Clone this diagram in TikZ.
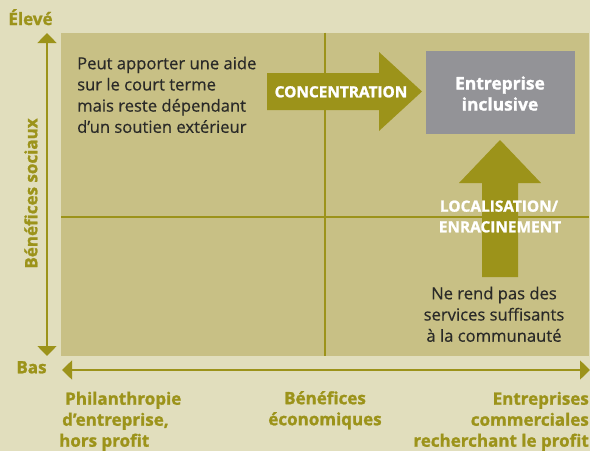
\documentclass[tikz,border=0pt]{standalone}
\usepackage{fontspec}
\setmainfont{Open Sans}[BoldFeatures={FakeBold=1.3}]
\newfontfamily\bodyfont{Open Sans}[FakeBold=0.5]
\usetikzlibrary{arrows.meta}
\definecolor{bg}{HTML}{E1DEBD}
\definecolor{panel}{HTML}{C8C085}
\definecolor{olive}{HTML}{9C931A}
\definecolor{greybox}{HTML}{939397}
\definecolor{darktext}{HTML}{2A2A28}
\tikzset{
  gridline/.style={olive, line width=1.6pt},
  axis/.style={olive, line width=1.6pt, {Triangle[width=19pt,length=10pt]}-{Triangle[width=19pt,length=10pt]}},
  blockarrow/.style={fill=olive},
  axlabel/.style={text=olive, font=\fontsize{17}{21}\selectfont\bfseries, inner sep=0pt},
  bodytext/.style={text=darktext, font=\bodyfont\fontsize{16.6}{21.2}\selectfont, inner sep=0pt},
  whitelabel/.style={text=white, font=\fontsize{15.4}{21}\selectfont\bfseries, inner sep=0pt},
}
\begin{document}
\begin{tikzpicture}[x=1pt,y=-1pt]
\fill[bg] (0,0) rectangle (590,451);
\useasboundingbox (0,0) rectangle (590,451);
\fill[panel] (61,32.5) rectangle (589,356);
\draw[gridline] (325,32.5) -- (325,356);
\draw[gridline] (61,216.7) -- (589,216.7);
% axes
\coordinate (ytop) at (47,33);
\coordinate (ybot) at (47,356);
\coordinate (xleft) at (62,370);
\coordinate (xright) at (590,370);
\draw[axis] (ytop) -- (ybot);
\draw[axis] (xleft) -- (xright);
\node[axlabel, anchor=base] (eleve) at (30.5,25) {Élevé};
\node[axlabel, anchor=base] (bas) at (31.5,373.3) {Bas};
\node[axlabel, rotate=90, anchor=base] (socio) at (37.3,193.5) {Bénéfices sociaux};
% block arrows
\fill[blockarrow] (267,73) -- (379,73) -- (379,52) -- (422,91.5) -- (379,131) -- (379,110) -- (267,110) -- cycle;
\fill[blockarrow] (482,277) -- (482,183) -- (459,183) -- (500,140) -- (541,183) -- (518,183) -- (518,277) -- cycle;
\node[whitelabel, anchor=base] (conc) at (341,97.3) {CONCENTRATION};
\node[whitelabel, anchor=base] (loc1) at (499,211.7) {LOCALISATION/};
\node[whitelabel, anchor=base] (loc2) at (500,232.3) {ENRACINEMENT};
% grey box
\fill[greybox] (426,51) rectangle (575,134);
\node[whitelabel, font=\fontsize{17.4}{21}\selectfont\bfseries, align=center, anchor=north] (incl) at (500,76.1) {Entreprise\\inclusive};
% body texts
\node[bodytext, align=left, anchor=north west] (peut) at (77,56.4) {Peut apporter une aide\\sur le court terme\\mais reste dépendant\\d’un soutien extérieur};
\node[bodytext, align=center, anchor=north] (nerend) at (494,286.5) {Ne rend pas des\\services suffisants\\à la communauté};
% bottom labels
\node[axlabel, align=left, anchor=north west] (phil) at (59,391.6) {\hspace{6pt}Philanthropie\\\hspace{3pt}d’entreprise,\\hors profit};
\node[axlabel, align=center, anchor=north] (eco) at (325,391) {Bénéfices\\économiques};
\node[axlabel, align=right, anchor=north east] (comm) at (589,391.6) {Entreprises\\commerciales\\recherchant le profit};
\end{tikzpicture}
\end{document}
